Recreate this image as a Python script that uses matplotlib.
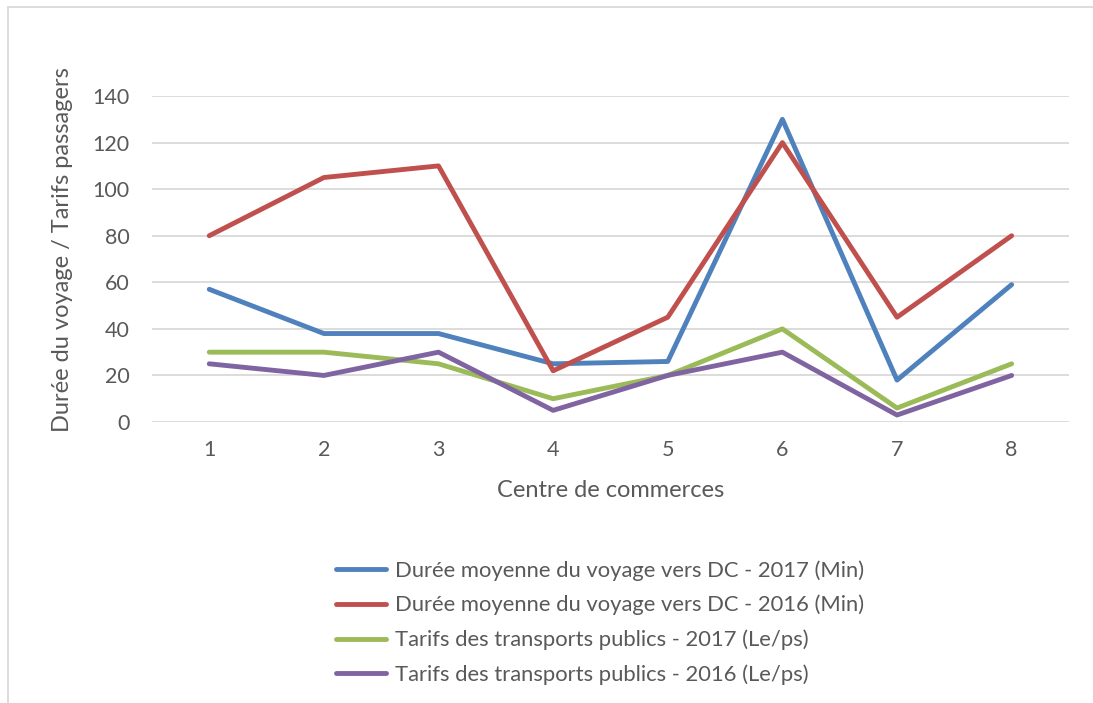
import matplotlib.pyplot as plt
from matplotlib.lines import Line2D

plt.rcParams['font.family'] = ['Lato', 'DejaVu Sans']

# données
centres = [1, 2, 3, 4, 5, 6, 7, 8]
duree_2017 = [57, 38, 38, 25, 26, 130, 18, 59]
duree_2016 = [80, 105, 110, 22, 45, 120, 45, 80]
tarifs_2017 = [30, 30, 25, 10, 20, 40, 6, 25]
tarifs_2016 = [25, 20, 30, 5, 20, 30, 3, 20]

series = [
    (duree_2017, "Durée moyenne du voyage vers DC - 2017 (Min)", "#4F81BD"),
    (duree_2016, "Durée moyenne du voyage vers DC - 2016 (Min)", "#C0504D"),
    (tarifs_2017, "Tarifs des transports publics - 2017 (Le/ps)", "#9BBB59"),
    (tarifs_2016, "Tarifs des transports publics - 2016 (Le/ps)", "#8064A2"),
]

fig = plt.figure(figsize=(10.93, 7.03), dpi=100)
ax = fig.add_axes([0.139, 0.3997, 0.839, 0.4637])

for vals, lab, col in series:
    ax.plot(centres, vals, color=col, lw=3.5, label=lab,
            solid_joinstyle='round', solid_capstyle='round')

ax.set_xlim(0.5, 8.5)
ax.set_ylim(0, 140)
ax.set_yticks(range(0, 141, 20))
ax.set_xticks(centres)
ax.grid(axis='y', color='#D9D9D9', lw=1.3)
ax.set_axisbelow(True)
for s in ax.spines.values():
    s.set_visible(False)
ax.tick_params(length=0, labelsize=15.5, colors='#595959')
ax.tick_params(axis='x', pad=13)
ax.tick_params(axis='y', pad=16)

ax.set_xlabel("Centre de commerces", fontsize=17, color='#595959', labelpad=14)
ax.set_ylabel("Durée du voyage / Tarifs passagers", fontsize=17, color='#595959')
ax.yaxis.set_label_coords(-0.086, 0.53)

fig.legend(loc='center', bbox_to_anchor=(0.549, 0.1145), frameon=False,
           fontsize=15.8, handlelength=2.3, handletextpad=0.4, labelspacing=0.65,
           labelcolor='#595959')

# cadre du graphique (haut et gauche)
fig.add_artist(Line2D([8 / 1093, 1], [1 - 7 / 703, 1 - 7 / 703], color='#D9D9D9', lw=1.3))
fig.add_artist(Line2D([8 / 1093, 8 / 1093], [0, 1 - 7 / 703], color='#D9D9D9', lw=1.3))

fig.savefig("out.png", dpi=100)
